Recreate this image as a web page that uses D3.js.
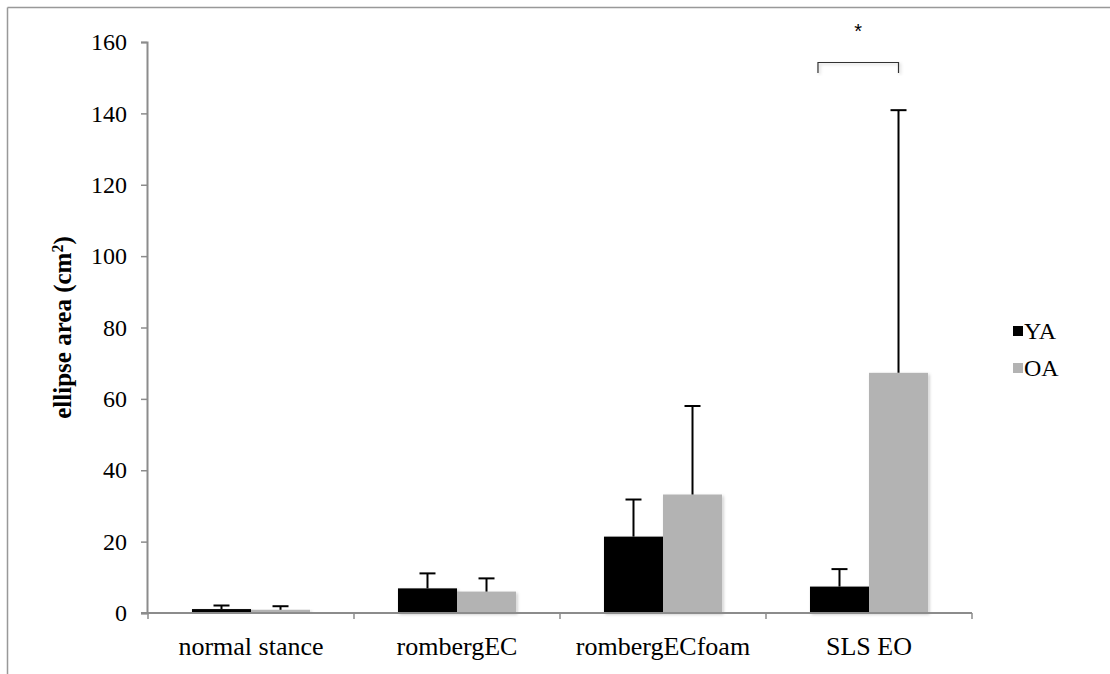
<!DOCTYPE html>
<html>
<head>
<meta charset="utf-8">
<script src="https://cdn.jsdelivr.net/npm/d3@7"></script>
<style>
  html, body { margin: 0; padding: 0; background: #fff; }
  svg { display: block; }
  .serif { font-family: "Liberation Serif", "Times New Roman", "DejaVu Serif", serif; }
</style>
</head>
<body>
<svg id="chart" width="1110" height="674"></svg>
<script>
// Sway ellipse area by stance condition, young (YA) vs older (OA) adults
const categories = ["normal stance", "rombergEC", "rombergECfoam", "SLS EO"];
const seriesNames = ["YA", "OA"];
const yaMeans = [1.1, 6.9, 21.4, 7.4];
const yaErrors = [1.0, 4.2, 10.4, 4.9];
const oaMeans = [0.9, 6.0, 33.2, 67.3];
const oaErrors = [1.0, 3.7, 24.8, 73.6];
const yTicks = [0, 20, 40, 60, 80, 100, 120, 140, 160];
const seriesColors = ["#000000", "#b3b3b3"];

const W = 1110, H = 674;
const margin = { left: 148, right: 138, top: 42, bottom: 61 };
const svg = d3.select("#chart");

const defs = svg.append("defs");
const shadow = defs.append("filter").attr("id", "soft").attr("x", "-20%").attr("y", "-20%").attr("width", "140%").attr("height", "140%");
shadow.append("feDropShadow").attr("dx", 1.5).attr("dy", 1.5).attr("stdDeviation", 1.5)
  .attr("flood-color", "#000").attr("flood-opacity", 0.22);

// outer frame (top and left edges visible)
svg.append("line").attr("x1", 7.5).attr("x2", W).attr("y1", 7.5).attr("y2", 7.5)
  .attr("stroke", "#999").attr("stroke-width", 1.5);
svg.append("line").attr("x1", 7.5).attr("x2", 7.5).attr("y1", 7.5).attr("y2", H)
  .attr("stroke", "#999").attr("stroke-width", 1.5);

const x = d3.scaleBand().domain(categories).range([margin.left, W - margin.right]).padding(0);
const xs = d3.scaleBand().domain(seriesNames)
  .range([x.bandwidth() * 0.2135, x.bandwidth() * 0.7865]).padding(0);
const y = d3.scaleLinear().domain([0, 160]).range([H - margin.bottom, margin.top]);

const rows = categories.map((c, i) => ({
  cat: c,
  vals: [
    { s: "YA", v: yaMeans[i], e: yaErrors[i], color: seriesColors[0] },
    { s: "OA", v: oaMeans[i], e: oaErrors[i], color: seriesColors[1] }
  ]
}));

const groups = svg.append("g").selectAll("g").data(rows).join("g")
  .attr("transform", d => `translate(${x(d.cat)},0)`);

groups.selectAll("rect").data(d => d.vals).join("rect")
  .attr("x", d => xs(d.s))
  .attr("width", xs.bandwidth())
  .attr("y", d => y(d.v))
  .attr("height", d => y(0) - y(d.v))
  .attr("fill", d => d.color)
  .attr("filter", "url(#soft)");

// error bars (upper only)
const eb = groups.selectAll("g.err").data(d => d.vals).join("g").attr("class", "err");
eb.append("line")
  .attr("x1", d => xs(d.s) + xs.bandwidth() / 2)
  .attr("x2", d => xs(d.s) + xs.bandwidth() / 2)
  .attr("y1", d => y(d.v))
  .attr("y2", d => y(d.v + d.e))
  .attr("stroke", "#000").attr("stroke-width", 2);
eb.append("line")
  .attr("x1", d => xs(d.s) + xs.bandwidth() / 2 - 8)
  .attr("x2", d => xs(d.s) + xs.bandwidth() / 2 + 8)
  .attr("y1", d => y(d.v + d.e))
  .attr("y2", d => y(d.v + d.e))
  .attr("stroke", "#000").attr("stroke-width", 2);

// y axis
const yAxis = svg.append("g").attr("transform", `translate(${margin.left - 1},0)`)
  .call(d3.axisLeft(y).tickValues(yTicks).tickSize(6).tickPadding(14).tickFormat(d3.format("d")));
yAxis.attr("font-family", null).attr("font-size", null);
yAxis.select(".domain").attr("stroke", "#8c8c8c").attr("stroke-width", 2);
yAxis.selectAll(".tick line").attr("stroke", "#8c8c8c").attr("stroke-width", 1.5);
yAxis.selectAll("text").attr("class", "serif")
  .style("font-size", "24px").attr("fill", "#000");

// x axis with ticks between categories
const xAxis = svg.append("g").attr("transform", `translate(0,${y(0)})`);
xAxis.append("line").attr("x1", margin.left - 7).attr("x2", W - margin.right)
  .attr("stroke", "#8c8c8c").attr("stroke-width", 2);
const bounds = categories.map(c => x(c)).concat([x(categories[categories.length - 1]) + x.bandwidth()]);
xAxis.selectAll("line.sep").data(bounds).join("line").attr("class", "sep")
  .attr("x1", d => d).attr("x2", d => d).attr("y1", 0).attr("y2", 6)
  .attr("stroke", "#8c8c8c").attr("stroke-width", 1.5);
xAxis.selectAll("text").data(categories).join("text")
  .attr("class", "serif")
  .attr("x", d => x(d) + x.bandwidth() / 2)
  .attr("y", 42)
  .attr("text-anchor", "middle")
  .style("font-size", "26px")
  .text(d => d);

// y axis title
const title = svg.append("text")
  .attr("class", "serif")
  .attr("transform", `translate(71,${(y(0) + y(160)) / 2}) rotate(-90)`)
  .attr("text-anchor", "middle")
  .style("font-weight", "bold")
  .style("font-size", "25px");
title.append("tspan").text("ellipse area (cm");
title.append("tspan").attr("baseline-shift", "super").style("font-size", "16px").text("2");
title.append("tspan").text(")");

// significance bracket over SLS EO
const slsX = x("SLS EO");
const bx1 = slsX + xs("YA") + 8, bx2 = slsX + xs("OA") + xs.bandwidth() / 2;
svg.append("path")
  .attr("d", `M${bx1},73 V62.5 H${bx2} V73`)
  .attr("fill", "none").attr("stroke", "#333").attr("stroke-width", 1.2)
  .attr("filter", "url(#soft)");
svg.append("text")
  .attr("x", (bx1 + bx2) / 2).attr("y", 38)
  .attr("text-anchor", "middle")
  .style("font-family", "'Liberation Sans', Arial, sans-serif")
  .style("font-size", "20px")
  .text("*");

// legend
const legend = svg.append("g").attr("transform", "translate(1013,326)");
const li = legend.selectAll("g").data(seriesNames).join("g")
  .attr("transform", (d, i) => `translate(0,${i * 37})`);
li.append("rect").attr("width", 10).attr("height", 10).attr("y", 0)
  .attr("fill", (d, i) => seriesColors[i]);
li.append("text").attr("class", "serif").attr("x", 11).attr("y", 13)
  .style("font-size", "24px")
  .text(d => d);
</script>
</body>
</html>
